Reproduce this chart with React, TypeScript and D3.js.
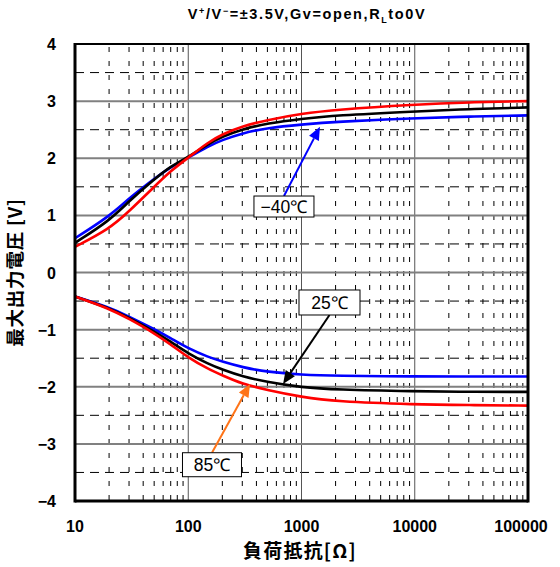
import React from "react";
import * as d3 from "d3";

const resistance = [10, 20, 30, 50, 70, 100, 150, 200, 300, 500, 1000, 2000, 10000, 30000, 100000];
const posMinus40 = [0.6, 0.98, 1.3, 1.64, 1.85, 2.01, 2.21, 2.32, 2.44, 2.53, 2.59, 2.64, 2.7, 2.73, 2.75];
const pos25 = [0.52, 0.9, 1.25, 1.63, 1.86, 2.02, 2.25, 2.38, 2.51, 2.61, 2.69, 2.75, 2.82, 2.86, 2.89];
const pos85 = [0.45, 0.76, 1.07, 1.5, 1.78, 2.01, 2.28, 2.42, 2.56, 2.67, 2.78, 2.85, 2.94, 2.98, 3.0];
const negMinus40 = [-0.42, -0.61, -0.77, -0.99, -1.15, -1.33, -1.48, -1.56, -1.66, -1.74, -1.79, -1.81, -1.82, -1.82, -1.82];
const neg25 = [-0.42, -0.62, -0.79, -1.03, -1.21, -1.42, -1.6, -1.7, -1.82, -1.92, -2.01, -2.05, -2.08, -2.09, -2.09];
const neg85 = [-0.42, -0.63, -0.81, -1.06, -1.26, -1.49, -1.69, -1.8, -1.95, -2.06, -2.18, -2.26, -2.31, -2.32, -2.33];

const xTicks = [10, 100, 1000, 10000, 100000];
const yTicks = [-4, -3, -2, -1, 0, 1, 2, 3, 4];

const series = [
  { name: "-40", color: "#0000ff", values: posMinus40 },
  { name: "-40n", color: "#0000ff", values: negMinus40 },
  { name: "25", color: "#000000", values: pos25 },
  { name: "25n", color: "#000000", values: neg25 },
  { name: "85", color: "#ff0000", values: pos85 },
  { name: "85n", color: "#ff0000", values: neg85 },
];

// annotations: label, box center (R, V), arrow tip (R, V)
const annotations = [
  { label: "\u221240\u2103", box: [700, 1.155], w: 60, h: 21, tip: [1456, 2.55], color: "#0000ff", start: "top" },
  { label: "25\u2103", box: [1767, -0.525], w: 61, h: 25, tip: [687, -1.95], color: "#000000", start: "bottom" },
  { label: "85\u2103", box: [162, -3.365], w: 59, h: 24, tip: [351, -1.95], color: "#ff7418", start: "top" },
];

const W = 560, H = 567;
const L = 75, R = 528, T = 44, B = 501;

export default function App() {
  const x = d3.scaleLog().domain([10, 100000]).range([L, R]);
  const y = d3.scaleLinear().domain([-4, 4]).range([B, T]);

  const minorX: number[] = [];
  for (let dec = 10; dec < 100000; dec *= 10) {
    for (let k = 2; k <= 9; k++) minorX.push(dec * k);
  }
  const halfY = [-3.5, -2.5, -1.5, -0.5, 0.5, 1.5, 2.5, 3.5];

  const line = d3
    .line<[number, number]>()
    .x((d) => x(d[0]))
    .y((d) => y(d[1]))
    .curve(d3.curveBasis);

  const font = "'Liberation Sans', Arial, sans-serif";
  const jfont = "'Noto Sans CJK JP', sans-serif";

  return (
    <svg width={W} height={H} style={{ position: "absolute", left: 0, top: 0, background: "#fff" }}>
      <rect x={0} y={0} width={W} height={H} fill="#fff" />
      {minorX.map((v) => (
        <line key={"mx" + v} x1={x(v)} x2={x(v)} y1={T} y2={B} stroke="#000" strokeWidth={1} strokeDasharray="5,9" strokeDashoffset={-3} />
      ))}
      {halfY.map((v) => (
        <line key={"hy" + v} x1={L} x2={R} y1={y(v)} y2={y(v)} stroke="#000" strokeWidth={1} strokeDasharray="9,6" />
      ))}
      {xTicks.slice(1, -1).map((v) => (
        <line key={"Mx" + v} x1={x(v)} x2={x(v)} y1={T} y2={B} stroke="#555" strokeWidth={1} />
      ))}
      {yTicks.slice(1, -1).map((v) => (
        <line key={"My" + v} x1={L} x2={R} y1={y(v)} y2={y(v)} stroke="#808080" strokeWidth={2} />
      ))}
      {series.map((s) => (
        <path
          key={s.name}
          d={line(resistance.map((r, i) => [r, s.values[i]] as [number, number])) || ""}
          fill="none"
          stroke={s.color}
          strokeWidth={2.6}
        />
      ))}
      <line x1={L} x2={R} y1={T} y2={T} stroke="#000" strokeWidth={2} />
      <line x1={L} x2={R} y1={B} y2={B} stroke="#000" strokeWidth={3} />
      <line x1={L} x2={L} y1={T - 1} y2={B + 1.5} stroke="#000" strokeWidth={3} />
      <line x1={R} x2={R} y1={T - 1} y2={B + 1.5} stroke="#000" strokeWidth={3} />
      {annotations.map((a) => {
        const bx = x(a.box[0]);
        const by = y(a.box[1]);
        const sx = bx;
        const sy = a.start === "top" ? by - a.h / 2 : by + a.h / 2;
        const tx = x(a.tip[0]);
        const ty = y(a.tip[1]);
        const ang = Math.atan2(ty - sy, tx - sx);
        const hl = 13, hw = 5.5;
        const baseX = tx - hl * Math.cos(ang);
        const baseY = ty - hl * Math.sin(ang);
        const px = -Math.sin(ang), py = Math.cos(ang);
        const head = `M${tx},${ty} L${baseX + hw * px},${baseY + hw * py} L${baseX - hw * px},${baseY - hw * py} Z`;
        return (
          <g key={a.label}>
            <line x1={sx} y1={sy} x2={baseX} y2={baseY} stroke={a.color} strokeWidth={2} />
            <path d={head} fill={a.color} />
            <rect x={bx - a.w / 2} y={by - a.h / 2} width={a.w} height={a.h} fill="#fff" stroke="#000" strokeWidth={1} />
            <text x={bx} y={by + 6.5} textAnchor="middle" fontFamily={font} fontSize={17.5} fill="#000">
              {a.label}
            </text>
          </g>
        );
      })}
      {yTicks.map((v) => (
        <text key={"yt" + v} x={56} y={y(v) + 6} textAnchor="end" fontFamily={font} fontWeight="bold" fontSize={16} fill="#000">
          {v < 0 ? "\u2212" + Math.abs(v) : String(v)}
        </text>
      ))}
      {xTicks.map((v) => (
        <text key={"xt" + v} x={Math.min(x(v), 521)} y={532} textAnchor="middle" fontFamily={font} fontWeight="bold" fontSize={16} fill="#000">
          {String(v)}
        </text>
      ))}
      <text x={300} y={558} textAnchor="middle" fontFamily={jfont} fontWeight="bold" fontSize={19} letterSpacing={1.2} fill="#000">
        負荷抵抗[Ω]
      </text>
      <text
        transform={`translate(22, ${(T + B) / 2}) rotate(-90)`}
        textAnchor="middle"
        fontFamily={jfont}
        fontWeight="bold"
        fontSize={18.5}
        letterSpacing={0.8}
        fill="#000"
      >
        最大出力電圧 [V]
      </text>
      <text x={307} y={19} textAnchor="middle" fontFamily={font} fontWeight="bold" fontSize={14.5} letterSpacing={1.6} fill="#000">
        V<tspan dy={-5} fontSize={9}>+</tspan>
        <tspan dy={5}>/V</tspan>
        <tspan dy={-5} fontSize={9}>−</tspan>
        <tspan dy={5}>=±3.5V,Gv=open,R</tspan>
        <tspan dy={4} fontSize={9}>L</tspan>
        <tspan dy={-4}>to0V</tspan>
      </text>
    </svg>
  );
}
